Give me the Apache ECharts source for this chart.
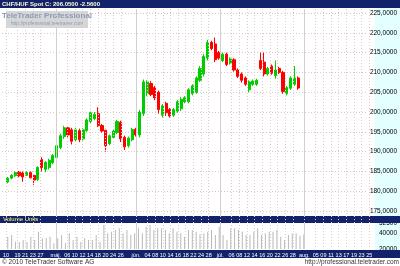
<!DOCTYPE html>
<html><head><meta charset="utf-8">
<script src="https://cdn.jsdelivr.net/npm/echarts@6/dist/echarts.min.js"></script>
<style>html,body{margin:0;padding:0;background:#fff}#c{width:400px;height:266px}</style>
</head><body><div id="c"></div>
<script>
// ---- data ----
// date tick labels and the trading-day slot each one sits on
const tickTexts = ['10','19','21','23','27','máj.','06','10','12','14','18','20','24','26','jún.','04','08','10','14','16','18','22','24','28','júl.','06','08','12','14','16','20','22','26','28','aug.','05','09','11','13','17','19','23','25'];
const tickSlots = [0,3,5,7,9,13,16,18,20,22,24,26,28,30,34,37,39,41,43,45,47,49,51,53,56,59,61,63,65,67,69,71,73,75,78,81,83,85,87,89,91,93,95];
const openP  = [182.3,183.3,183.9,184.8,184.6,184.0,184.7,184.0,183.0,188.0,185.5,186.0,187.2,188.5,191.0,193.8,196.0,195.5,193.0,195.3,193.2,195.3,197.6,198.3,199.6,196.6,195.4,192.0,193.6,194.8,197.4,193.6,191.5,193.0,195.6,194.2,199.6,204.6,207.2,206.2,205.0,199.2,202.2,200.6,199.2,200.2,200.8,202.6,202.6,204.6,205.0,208.0,209.6,213.6,217.6,217.2,215.0,213.0,214.6,212.4,213.2,210.6,209.6,208.6,205.6,207.0,207.0,213.0,212.6,209.6,211.6,209.2,211.0,210.0,204.6,206.0,207.0,208.6];
const closeP = [183.3,184.0,184.7,183.9,183.6,184.7,183.4,182.8,186.0,186.0,187.3,187.8,189.0,191.5,194.0,196.0,194.2,192.6,195.5,193.0,195.5,198.0,199.8,199.4,196.6,195.2,191.5,194.0,195.2,197.6,193.2,191.2,193.4,195.6,194.2,200.0,207.6,207.6,204.4,203.6,200.6,201.6,199.8,199.0,200.6,202.6,203.2,203.6,205.6,206.6,208.6,211.0,214.0,217.6,216.0,213.2,213.6,214.6,212.0,213.4,210.6,209.0,208.0,207.0,207.6,207.8,208.0,211.0,209.6,211.0,209.8,210.6,210.0,205.2,206.2,208.6,208.6,206.05];
const lowP   = [182.0,183.0,183.6,183.5,182.4,183.8,183.2,181.6,182.6,185.0,184.8,185.5,186.8,188.0,190.6,193.2,193.6,191.8,192.6,192.4,192.8,195.0,197.2,197.9,196.2,194.8,190.0,191.6,193.2,194.4,192.4,190.4,191.0,192.6,193.8,193.6,199.0,204.0,204.0,203.0,199.6,198.6,199.0,198.6,198.8,199.8,200.2,202.2,202.2,204.2,204.6,207.6,209.0,213.0,215.6,212.6,213.2,212.6,211.6,212.0,210.2,208.6,207.4,206.6,205.0,206.6,206.6,210.6,209.0,209.2,209.4,208.4,209.6,204.6,204.2,205.6,206.6,205.6];
const highP  = [183.6,184.3,185.0,185.1,185.0,185.0,185.0,184.3,186.3,188.6,187.6,188.2,189.4,192.0,194.5,196.5,196.4,196.0,196.0,195.8,195.9,198.4,200.3,200.0,201.2,197.0,195.8,194.3,195.6,198.0,197.8,194.0,193.8,196.0,196.0,200.5,208.2,208.0,207.8,206.6,205.4,202.0,202.6,201.0,201.0,203.0,203.8,204.0,206.0,207.0,209.0,211.6,214.6,218.2,218.0,218.8,215.4,215.0,215.0,213.8,213.6,211.0,210.0,209.0,208.0,208.2,208.4,215.0,215.0,211.4,212.0,213.0,211.4,210.4,206.6,209.0,211.6,209.0];
const volume = [35400,37500,29200,29200,31200,29200,35400,31200,41700,33300,33300,35400,27100,33300,37500,27100,39600,31200,35400,29200,33300,31200,31200,37500,29200,50000,39600,41700,43700,45800,39600,43700,37500,39600,45800,39600,47900,50000,43700,45800,45800,43700,39600,45800,41700,39600,35400,43700,43700,41700,38500,39600,41700,43700,37500,47900,37500,31200,45800,45800,43700,41700,37500,37500,41700,45800,37500,39600,41700,41700,43700,35400,31200,37500,39600,39600,36500,38000];
const lastPrice = 206.05;
const change = -2.56;
const leadSlots = 1, totalSlots = 97;

// ---- build ----
const N = openP.length;
const slots = Array.from({length: totalSlots}, (_, i) => 's' + i);
const slotText = slots.map(() => '');
tickSlots.forEach((s, j) => { slotText[s] = tickTexts[j]; });
const monthSlots = tickSlots.filter((s, j) => tickTexts[j].indexOf('.') >= 0);
const candleData = slots.map((_, i) => {
  const k = i - leadSlots;
  return (k >= 0 && k < N) ? [openP[k], closeP[k], lowP[k], highP[k]] : ['-','-','-','-'];
});
const volData = slots.map((_, i) => {
  const k = i - leadSlots;
  return (k >= 0 && k < N) ? volume[k] : '-';
});
const fmt4 = v => v.toFixed(4).replace('.', ',');
const FONT = 'Liberation Sans';
const NAVY = '#13236b';
const L = 2, R = 25;
const half = (400 - L - R) / totalSlots / 2;
const isTick = (i) => slotText[i] !== '';

const chart = echarts.init(document.getElementById('c'), null, {renderer: 'canvas'});
chart.setOption({
  animation: false,
  backgroundColor: '#ffffff',
  textStyle: {fontFamily: FONT},
  grid: [
    {left: L, right: R, top: 13, bottom: 55},
    {left: L, right: R, top: 223, bottom: 17},
    {left: L + half, right: R + half, top: 9, bottom: 17}
  ],
  xAxis: [
    {type: 'category', gridIndex: 0, data: slots, boundaryGap: true, show: false},
    {type: 'category', gridIndex: 1, data: slots, boundaryGap: true, show: false},
    {type: 'category', gridIndex: 2, data: slots, boundaryGap: false, z: 30,
     axisLine: {show: false}, axisTick: {show: false},
     axisLabel: {interval: isTick, formatter: (v, i) => slotText[i], color: '#ffffff', fontSize: 5.5, margin: 3.5, fontFamily: FONT},
     splitLine: {show: true, interval: isTick, lineStyle: {color: '#e2c8c8', type: [1, 2], width: 1}}}
  ],
  yAxis: [
    {type: 'value', gridIndex: 0, position: 'right', min: 175, max: 225, interval: 5,
     axisLine: {show: false}, axisTick: {show: false},
     axisLabel: {color: '#000', fontSize: 6.5, margin: 2, formatter: fmt4, fontFamily: FONT},
     splitLine: {show: true, lineStyle: {color: '#d8c8c8', type: [1, 2]}}},
    {type: 'value', gridIndex: 1, position: 'right', min: 20000, max: 52500, interval: 20000,
     axisLine: {show: false}, axisTick: {show: false},
     axisLabel: {color: '#000', fontSize: 6.5, margin: 4, fontFamily: FONT, formatter: v => String(v)},
     splitLine: {show: false}},
    {type: 'value', gridIndex: 2, show: false, min: 0, max: 1}
  ],
  series: [
    {type: 'candlestick', xAxisIndex: 0, yAxisIndex: 0, data: candleData, barWidth: 2.6,
     itemStyle: {color: '#00cc00', color0: '#ff0000', borderColor: '#00cc00', borderColor0: '#ff0000', borderWidth: 1},
     markLine: {silent: true, symbol: 'none', animation: false,
       lineStyle: {opacity: 0},
       label: {position: 'end', formatter: () => fmt4(lastPrice), backgroundColor: '#ffff00', color: '#000',
               fontSize: 6.5, padding: [1, 1, 0, 1], distance: 1, fontFamily: FONT},
       data: [{yAxis: lastPrice}]}},
    {type: 'bar', xAxisIndex: 1, yAxisIndex: 1, data: volData, barWidth: 1, itemStyle: {color: '#b8b8b8'}},
    {type: 'line', xAxisIndex: 2, yAxisIndex: 2, data: [],
     markLine: {silent: true, symbol: 'none', animation: false, label: {show: false},
       lineStyle: {color: '#d0d0d0', type: 'solid', width: 1},
       data: monthSlots.map(s => ({xAxis: slots[s]}))}}
  ],
  graphic: [
    {type: 'rect', z: 0, shape: {x: 375, y: 8, width: 25, height: 208}, style: {fill: '#e4ffff'}},
    {type: 'rect', z: 0, shape: {x: 375, y: 223, width: 25, height: 28}, style: {fill: '#e4ffff'}},
    {type: 'rect', z: 20, shape: {x: 0, y: 0, width: 400, height: 8}, style: {fill: NAVY}},
    {type: 'text', z: 21, x: 2, y: 4, style: {text: 'CHF/HUF Spot C: ' + lastPrice.toFixed(4) + ' ' + change.toFixed(4), fill: '#ffffcc', font: 'bold 6px ' + FONT, textVerticalAlign: 'middle'}},
    {type: 'rect', z: 20, shape: {x: 0, y: 216, width: 400, height: 7}, style: {fill: NAVY}},
    {type: 'text', z: 21, x: 3, y: 219.5, style: {text: 'Volume Units', fill: '#ffff66', font: '6px ' + FONT, textVerticalAlign: 'middle'}},
    {type: 'rect', z: 20, shape: {x: 0, y: 250, width: 400, height: 8}, style: {fill: NAVY}},
    {type: 'rect', z: 20, shape: {x: 6, y: 11, width: 82, height: 17}, style: {fill: '#d6d6d6'}},
    {type: 'text', z: 21, x: 47, y: 16, style: {text: 'TeleTrader Professional', fill: '#8a9ab8', font: 'bold 8px ' + FONT, textAlign: 'center', textVerticalAlign: 'middle'}},
    {type: 'text', z: 21, x: 47, y: 24, style: {text: 'http://professional.teletrader.com', fill: '#8a9ab8', font: '5px ' + FONT, textAlign: 'center', textVerticalAlign: 'middle'}},
    {type: 'text', z: 21, x: 2, y: 262, style: {text: '© 2010 TeleTrader Software AG', fill: '#333', font: '6.5px ' + FONT, textVerticalAlign: 'middle'}},
    {type: 'text', z: 21, x: 399, y: 262, style: {text: 'http://professional.teletrader.com', fill: '#333', font: '6.5px ' + FONT, textAlign: 'right', textVerticalAlign: 'middle'}}
  ]
});
</script></body></html>
